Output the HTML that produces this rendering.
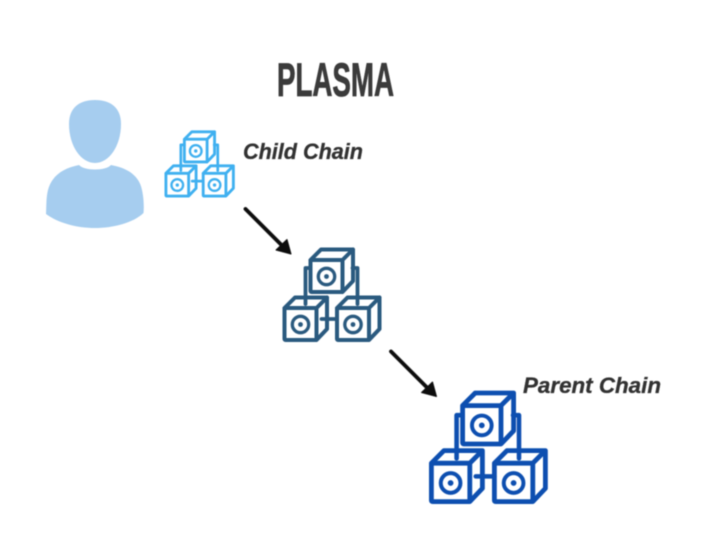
<!DOCTYPE html>
<html>
<head>
<meta charset="utf-8">
<style>
html,body{margin:0;padding:0;background:#fff;width:712px;height:537px;overflow:hidden}
svg{display:block}
</style>
</head>
<body>
<svg width="712" height="537" viewBox="0 0 712 537" xmlns="http://www.w3.org/2000/svg">
<defs>
<filter id="soft" x="-5%" y="-5%" width="110%" height="110%"><feGaussianBlur stdDeviation="0.4"/></filter>
<g id="cube" fill="none" stroke="currentColor" stroke-linejoin="round" stroke-linecap="round">
  <rect x="0" y="0" width="32" height="32" rx="1" stroke-width="4"/>
  <path d="M0 0L10.500 -10.500H42.500V21L32 32M32 0L42.500 -10.500" stroke-width="4"/>
  <circle cx="16" cy="16.500" r="8.200" stroke-width="3.300"/>
  <circle cx="16" cy="16.500" r="2.400" fill="currentColor" stroke="none"/>
</g>
<g id="chain" fill="none" stroke="currentColor" stroke-linejoin="round" stroke-linecap="round">
  <use href="#cube" x="28" y="13"/>
  <use href="#cube" x="2" y="61"/>
  <use href="#cube" x="54.500" y="61"/>
  <path d="M28 21H23V57M70 21H75V57M39 72H54.500" stroke-width="3.800"/>
</g>
</defs>

<g filter="url(#soft)">
<text x="277" y="96" font-family="'Liberation Sans',sans-serif" font-weight="700" font-size="47" fill="#3a3a3a" stroke="#3a3a3a" stroke-width="0.800" textLength="117" lengthAdjust="spacingAndGlyphs">PLASMA</text>

<g fill="#a6cdef">
  <path d="M95 100C111 100 121 108 121 124C121 146 109 163 95 163C81 163 69 146 69 124C69 108 79 100 95 100Z"/>
  <path d="M79 165C84 171 106 171 111 165C127 168 139 175 142 190C144 199 144 208 143.500 213C133 223 113 228 95 228C77 228 58 223 46 214C46.500 206 46 198 48 190C52 175 64 168 79 165Z"/>
</g>

<g transform="translate(164.500 130) scale(.71)" color="#3fb0f0"><use href="#chain"/></g>
<g transform="translate(282.500 247)" color="#2c5a7f"><use href="#chain"/></g>
<g transform="translate(429 390) scale(1.2)" color="#0d4fb0"><use href="#chain"/></g>

<text x="243" y="159" font-family="'Liberation Sans',sans-serif" font-weight="700" font-style="italic" font-size="22" fill="#333" stroke="#333" stroke-width="0.300" textLength="120" lengthAdjust="spacingAndGlyphs">Child Chain</text>
<text x="523" y="393" font-family="'Liberation Sans',sans-serif" font-weight="700" font-style="italic" font-size="22" fill="#333" stroke="#333" stroke-width="0.300" textLength="138" lengthAdjust="spacingAndGlyphs">Parent Chain</text>

<g fill="#0a0a0a" stroke="#0a0a0a" stroke-linejoin="round">
  <path d="M245.500 209L283 246.500" stroke-width="3.800" stroke-linecap="round" fill="none"/>
  <path d="M291 254L276 250L287 239.500Z" stroke-width="1"/>
  <path d="M391 351.500L428.500 389" stroke-width="3.800" stroke-linecap="round" fill="none"/>
  <path d="M436.500 396.500L421.500 392.500L432.500 382Z" stroke-width="1"/>
</g>
</g>
</svg>
</body>
</html>
